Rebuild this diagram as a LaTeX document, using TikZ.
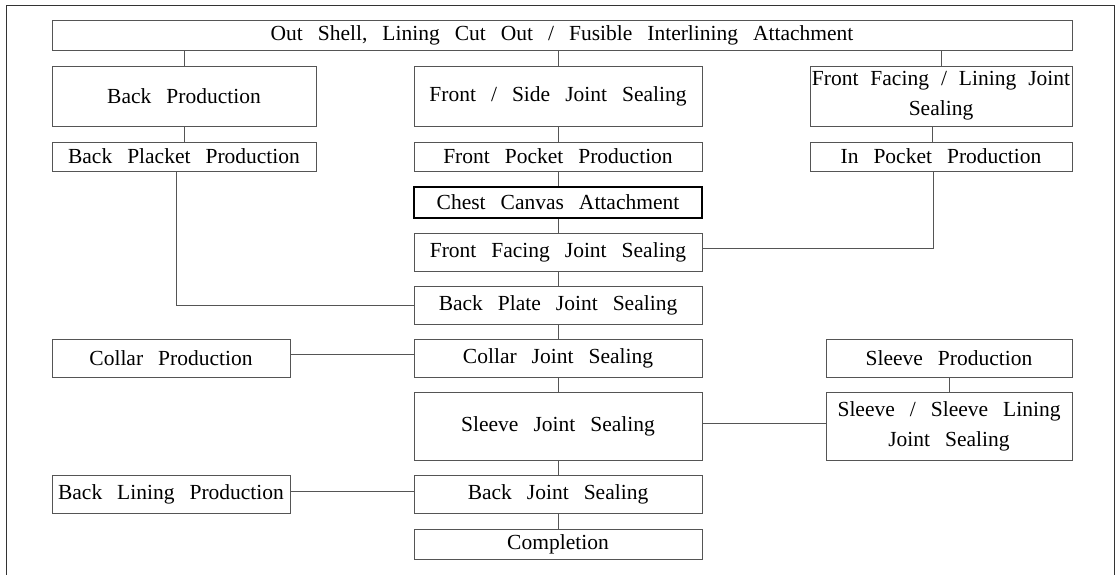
\documentclass[tikz,border=0pt]{standalone}
\usepackage{fontspec}
\setmainfont{Liberation Serif}
\usetikzlibrary{positioning}
\definecolor{FRAME}{HTML}{333333}
\definecolor{EDGE}{HTML}{555555}
\tikzset{
	every node/.style = {font=\fontsize{21.5}{30}\selectfont, execute at begin node={\spaceskip=15pt\relax}},
	stage/.style = {draw=EDGE, line width=0.8pt, inner sep=0pt, align=center, minimum height=#1},
	stage/.default = {38pt},
	link/.style = {draw=EDGE, line width=0.8pt}
}

\begin{document}
\begin{tikzpicture}[x=1pt, y=-1pt]
		\useasboundingbox (0,0) rectangle (1118,574);
		% frame
		\draw[FRAME, line width=1pt] (6,590) -- (6,5) -- (1114,5) -- (1114,590);
		
		% cutting
		\node[stage=30pt, minimum width=1020pt] (shell) at (562,35) {Out Shell, Lining Cut Out / Fusible Interlining Attachment};
		
		% left column
		\node[stage=60pt, minimum width=264pt] (backprod) at (184,96) {Back Production};
		\node[stage=29pt, minimum width=264pt] (backplacket) at (184,156.5) {Back Placket Production};
		\node[stage, minimum width=238pt] (collarprod) at (171,358) {Collar Production};
		\node[stage, minimum width=238pt] (backlining) at (171,494) {Back Lining Production};
		
		% middle column
		\node[stage=60pt, minimum width=288pt] (frontside) at (558,96) {Front / Side Joint Sealing};
		\node[stage=29pt, minimum width=288pt] (frontpocket) at (558,156.5) {Front Pocket Production};
		\node[stage=31pt, minimum width=288pt, draw=black, line width=1.2pt] (chest) at (558,202.5) {Chest Canvas Attachment};
		\node[stage, minimum width=288pt] (frontfacing) at (558,252) {Front Facing Joint Sealing};
		\node[stage, minimum width=288pt] (backplate) at (558,305) {Back Plate Joint Sealing};
		\node[stage, minimum width=288pt] (collarjoint) at (558,358) {Collar Joint Sealing};
		\node[stage=68pt, minimum width=288pt] (sleevejoint) at (558,426) {Sleeve Joint Sealing};
		\node[stage, minimum width=288pt] (backjoint) at (558,494) {Back Joint Sealing};
		\node[stage=30pt, minimum width=288pt] (completion) at (558,544) {Completion};
		
		% right column
		\node[stage=60pt, minimum width=262pt, execute at begin node={\spaceskip=12pt\relax}] (facinglining) at (941,96) {Front Facing / Lining Joint\\Sealing};
		\node[stage=29pt, minimum width=262pt] (inpocket) at (941,156.5) {In Pocket Production};
		\node[stage, minimum width=246pt] (sleeveprod) at (949,358) {Sleeve Production};
		\node[stage=68pt, minimum width=246pt] (sleevelining) at (949,426) {Sleeve / Sleeve Lining\\Joint Sealing};
		
		% links down from cutting
		\draw[link] (shell.south -| backprod) -- (backprod.north);
		\draw[link] (shell.south -| frontside) -- (frontside.north);
		\draw[link] (shell.south -| facinglining) -- (facinglining.north);
		\draw[link] (backprod) -- (backplacket);
		\draw[link] ([xshift=-9pt]facinglining.south) -- ([xshift=-9pt]inpocket.north);
		\draw[link] (sleeveprod) -- (sleevelining);
		
		% main line
		\foreach \a/\b in {frontside/frontpocket, frontpocket/chest, chest/frontfacing, frontfacing/backplate, backplate/collarjoint, collarjoint/sleevejoint, sleevejoint/backjoint, backjoint/completion}
			\draw[link] (\a.south) -- (\b.north);
		
		% side feeds
		\draw[link] ([xshift=-8pt]backplacket.south) |- (backplate.west);
		\draw[link] ([yshift=4pt]frontfacing.east) -| ([xshift=-8pt]inpocket.south);
		\draw[link] ([yshift=4pt]collarprod.east) -- ([yshift=4pt]collarjoint.west);
		\draw[link] ([yshift=3pt]sleevejoint.east) -- ([yshift=3pt]sleevelining.west);
		\draw[link] ([yshift=3pt]backlining.east) -- ([yshift=3pt]backjoint.west);
	\end{tikzpicture}
\end{document}
